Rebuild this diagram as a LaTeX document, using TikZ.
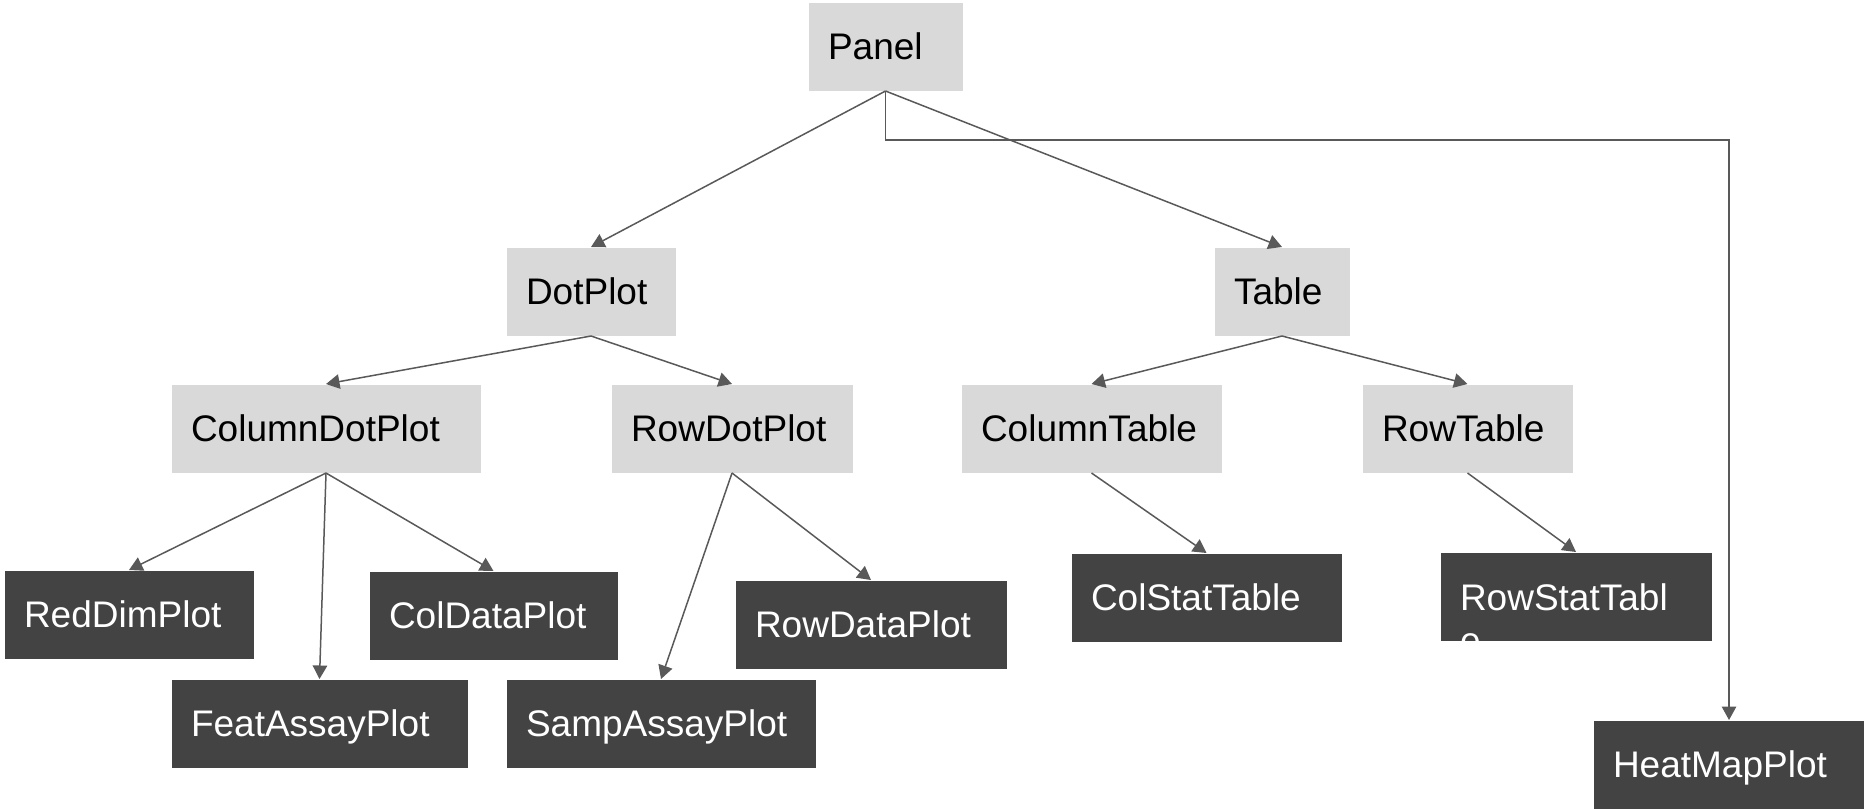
\documentclass[tikz,border=0pt]{standalone}
\usepackage{fontspec}
\setmainfont{Liberation Sans}
\usetikzlibrary{arrows.meta}
\definecolor{lightbox}{HTML}{D9D9D9}
\definecolor{darkbox}{HTML}{434343}
\definecolor{linec}{HTML}{595959}
\hyphenpenalty=10000
\hbadness=10000
\begin{document}
\begin{tikzpicture}[x=0.4pt,y=-0.4pt,
 box/.style={anchor=north west, minimum height=35.2pt, inner xsep=7.8pt, inner ysep=0pt,
   text height=10.6pt, text depth=0pt, align=left,
   font=\fontsize{14.8pt}{17.2pt}\selectfont},
 lightb/.style={box, fill=lightbox, text=black},
 darkb/.style={box, fill=darkbox, text=white},
 arr/.style={draw=linec, line width=0.6pt, -{Triangle[length=5.4pt,width=5.8pt]}}]
\useasboundingbox (0,0) rectangle (1864,808);

\node[lightb, minimum width=61.6pt, text width=46pt] (panel) at (808,2) {Panel};
\node[lightb, minimum width=67.6pt, text width=52pt] (dotplot) at (506,247) {DotPlot};
\node[lightb, minimum width=54pt, text width=38.4pt] (table) at (1214,247) {Table};
\node[lightb, minimum width=123.6pt, text width=108pt] (coldot) at (171,384) {ColumnDotPlot};
\node[lightb, minimum width=96.4pt, text width=80.8pt] (rowdot) at (611,384) {RowDotPlot};
\node[lightb, minimum width=104pt, text width=88.4pt] (coltab) at (961,384) {ColumnTable};
\node[lightb, minimum width=84pt, text width=68.4pt] (rowtab) at (1362,384) {RowTable};
\node[darkb, minimum width=99.6pt, text width=84pt] (reddim) at (4,570) {RedDimPlot};
\node[darkb, minimum width=99.2pt, text width=83.6pt] (coldata) at (369,571) {ColDataPlot};
\node[darkb, minimum width=118.4pt, text width=102.8pt] (featassay) at (171,679) {FeatAssayPlot};
\node[darkb, minimum width=123.6pt, text width=108pt] (sampassay) at (506,679) {SampAssayPlot};
\node[darkb, minimum width=108.4pt, text width=92.8pt] (rowdata) at (735,580) {RowDataPlot};
\node[darkb, minimum width=108pt, text width=92.4pt] (colstat) at (1071,553) {ColStatTable};
\node[darkb, minimum width=108.4pt, text width=92.8pt] (rowstat) at (1440,552) {};
\node[darkb, minimum width=108.4pt, text width=92.8pt] (heat) at (1593,720) {HeatMapPlot};

\begin{scope}
\clip (rowstat.north west) rectangle (rowstat.south east);
\node[anchor=north west, inner xsep=7.8pt, inner ysep=0pt, align=left, text=white,
  font=\fontsize{14.8pt}{17.2pt}\selectfont] (rowstatlabel) at (1440,583) {RowStatTabl\\e};
\end{scope}

\draw[arr] (panel.south) -- (dotplot.north);
\draw[arr] (panel.south) -- (table.north);
\draw[arr] (panel.south) -- ++(0,49) -| (heat.north);
\draw[arr] (dotplot.south) -- (coldot.north);
\draw[arr] (dotplot.south) -- (rowdot.north);
\draw[arr] (table.south) -- (coltab.north);
\draw[arr] (table.south) -- (rowtab.north);
\draw[arr] (coldot.south) -- (reddim.north);
\draw[arr] (coldot.south) -- (featassay.north);
\draw[arr] (coldot.south) -- (coldata.north);
\draw[arr] (rowdot.south) -- (sampassay.north);
\draw[arr] (rowdot.south) -- (rowdata.north);
\draw[arr] (coltab.south) -- (colstat.north);
\draw[arr] (rowtab.south) -- (rowstat.north);
\end{tikzpicture}
\end{document}
